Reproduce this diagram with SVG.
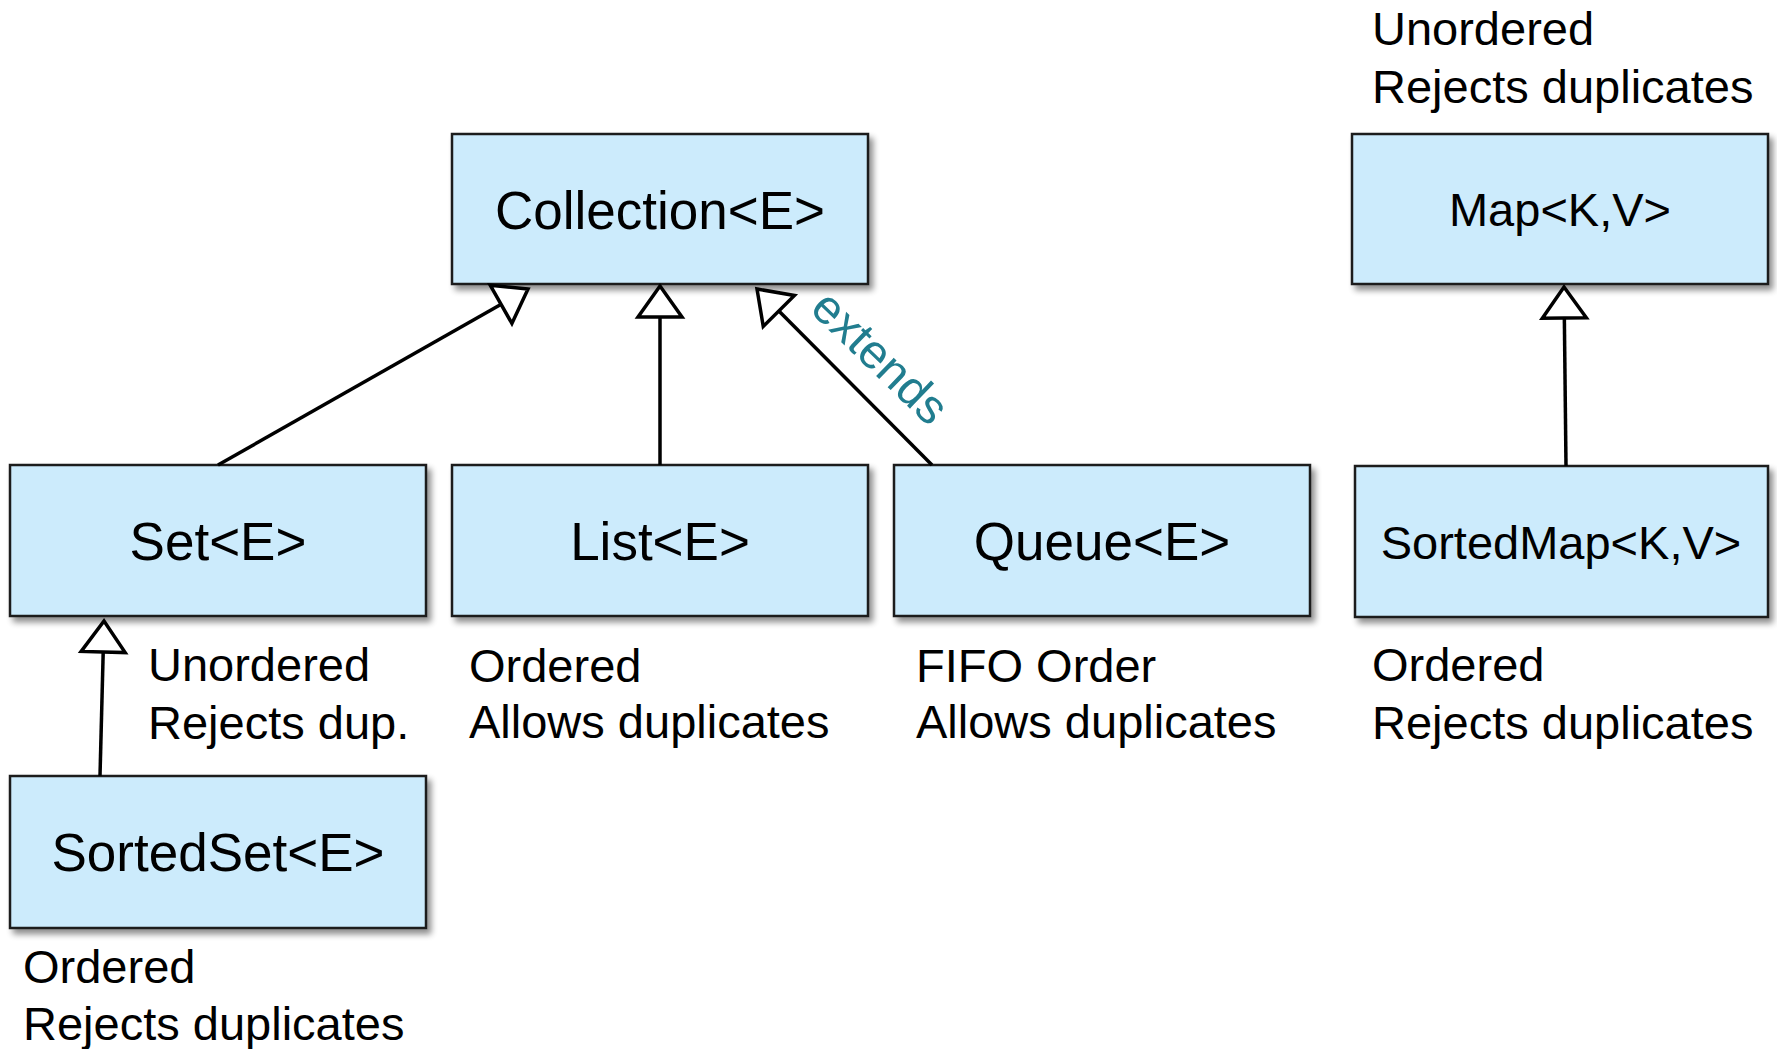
<svg xmlns="http://www.w3.org/2000/svg" width="1777" height="1049" viewBox="0 0 1777 1049">
<style>
.box{fill:#CCEBFC;stroke:#1a1a1a;stroke-width:2.5;filter:url(#sh)}
.lbl{font-family:"Liberation Sans",Arial,sans-serif;font-size:53px;fill:#000;text-anchor:middle}
.lbl2{font-family:"Liberation Sans",Arial,sans-serif;font-size:47px;fill:#000;text-anchor:middle}
.note{font-family:"Liberation Sans",Arial,sans-serif;font-size:47px;fill:#000}
.conn{stroke:#000;stroke-width:3.5;fill:none;marker-end:url(#tri)}
.ext{font-family:"Liberation Sans",Arial,sans-serif;font-size:48px;fill:#217D8F;text-anchor:middle}
</style>
<defs>
<filter id="sh" x="-5%" y="-5%" width="115%" height="120%">
<feGaussianBlur in="SourceAlpha" stdDeviation="3"/>
<feOffset dx="4" dy="5" result="b"/>
<feComponentTransfer><feFuncA type="linear" slope="0.45"/></feComponentTransfer>
<feMerge><feMergeNode/><feMergeNode in="SourceGraphic"/></feMerge>
</filter>
<marker id="tri" viewBox="-3 -26 38 52" refX="31" refY="0" markerWidth="38" markerHeight="52" markerUnits="userSpaceOnUse" orient="auto">
<path d="M0,-22 L31,0 L0,22 Z" fill="#fff" stroke="#000" stroke-width="3.5"/>
</marker>
</defs>
<rect width="1777" height="1049" fill="#fff"/>
<g id="collection"><rect class="box" x="452" y="134" width="416" height="150"/><text class="lbl" x="660" y="229">Collection&lt;E&gt;</text></g>
<g id="map"><rect class="box" x="1352" y="134" width="416" height="150"/><text class="lbl2" x="1560" y="226">Map&lt;K,V&gt;</text></g>
<g id="set"><rect class="box" x="10" y="465" width="416" height="151"/><text class="lbl" x="218" y="560">Set&lt;E&gt;</text></g>
<g id="list"><rect class="box" x="452" y="465" width="416" height="151"/><text class="lbl" x="660" y="560">List&lt;E&gt;</text></g>
<g id="queue"><rect class="box" x="894" y="465" width="416" height="151"/><text class="lbl" x="1102" y="560">Queue&lt;E&gt;</text></g>
<g id="sortedmap"><rect class="box" x="1355" y="466" width="413" height="151"/><text class="lbl2" x="1561" y="559">SortedMap&lt;K,V&gt;</text></g>
<g id="sortedset"><rect class="box" x="10" y="776" width="416" height="152"/><text class="lbl" x="218" y="871">SortedSet&lt;E&gt;</text></g>
<g id="connectors">
<line class="conn" x1="218" y1="465" x2="528" y2="289"/>
<line class="conn" x1="660" y1="465" x2="660" y2="286"/>
<line class="conn" x1="932" y1="465" x2="757" y2="289"/>
<line class="conn" x1="100" y1="776" x2="104" y2="621"/>
<line class="conn" x1="1566" y1="466" x2="1564" y2="287"/>
<text class="ext" transform="translate(869,369) rotate(44)">extends</text>
</g>
<g id="notes">
<text class="note" x="1372" y="45">Unordered</text>
<text class="note" x="1372" y="103">Rejects duplicates</text>
<text class="note" x="148" y="681">Unordered</text>
<text class="note" x="148" y="739">Rejects dup.</text>
<text class="note" x="469" y="682">Ordered</text>
<text class="note" x="469" y="738">Allows duplicates</text>
<text class="note" x="916" y="682">FIFO Order</text>
<text class="note" x="916" y="738">Allows duplicates</text>
<text class="note" x="1372" y="681">Ordered</text>
<text class="note" x="1372" y="739">Rejects duplicates</text>
<text class="note" x="23" y="983">Ordered</text>
<text class="note" x="23" y="1040">Rejects duplicates</text>
</g>
</svg>
